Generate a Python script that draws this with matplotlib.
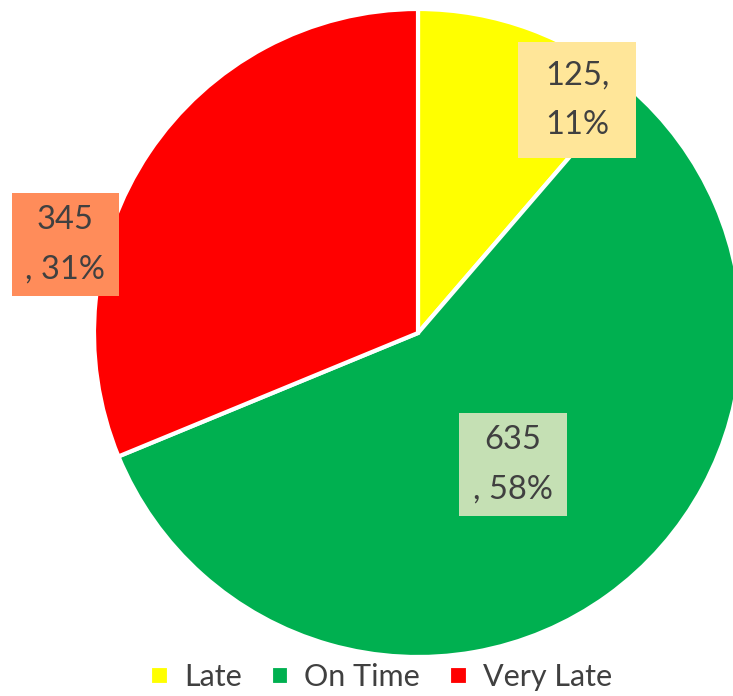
import matplotlib.pyplot as plt
from matplotlib.patches import Rectangle

plt.rcParams['font.family'] = ['Lato', 'DejaVu Sans']

categories = ['Late', 'On Time', 'Very Late']
counts = [125, 635, 345]
labels = ['125,\n11%', '635\n, 58%', '345\n, 31%']

colors = ['#FFFF00', '#00B050', '#FF0000']
box_colors = ['#FFE699', '#C5E0B4', '#FF8C5A']

S = 324.0   # px per unit radius
CX, CY = 418, 333  # pie centre in pixels
# label boxes in pixels: centre x, centre y, width, height
boxes = [(577, 100, 118, 116), (513, 465, 108, 103), (65, 245, 107, 103)]

fig = plt.figure(figsize=(7.33, 6.96), dpi=100)
ax = fig.add_axes([0, 0, 1, 1])

wedges, _ = ax.pie(counts, colors=colors, startangle=90, counterclock=False,
                   radius=1.0, center=(0, 0),
                   wedgeprops=dict(edgecolor='white', linewidth=3))

for lab, (bx, by, bw, bh), bc in zip(labels, boxes, box_colors):
    x = (bx - CX) / S
    y = (CY - by) / S
    ax.add_patch(Rectangle((x - bw / 2 / S, y - bh / 2 / S), bw / S, bh / S,
                           fc=bc, ec='none', zorder=3))
    ax.text(x, y, lab, ha='center', va='center', fontsize=23.5, color='#404040',
            linespacing=1.8, zorder=4)

ax.set_xlim(-CX / S, (733 - CX) / S)
ax.set_ylim(-(696 - CY) / S, CY / S)
ax.set_aspect('auto')
ax.axis('off')

leg = ax.legend(wedges, categories, loc='center', bbox_to_anchor=(0.52, 0.027),
                ncol=3, frameon=False, fontsize=22, handlelength=0.6,
                handleheight=0.6, handletextpad=0.5, columnspacing=0.95,
                labelcolor='#404040')

fig.savefig('out.png', dpi=100)
